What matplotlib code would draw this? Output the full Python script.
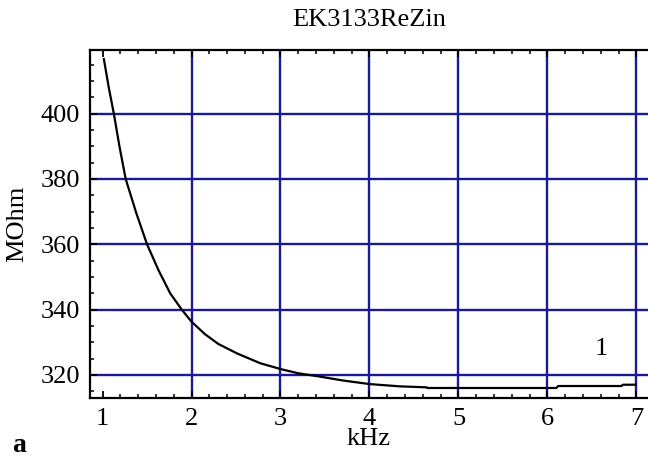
import matplotlib.pyplot as plt
from matplotlib.ticker import MultipleLocator

plt.rcParams['font.family'] = ['Liberation Serif', 'DejaVu Serif']

# curve
freq_khz = [1.015, 1.07, 1.127, 1.19, 1.26, 1.38, 1.50, 1.63, 1.76, 1.89,
            2.0, 2.15, 2.3, 2.51, 2.77, 3.0, 3.2, 3.44, 3.7, 4.0, 4.34,
            4.64, 4.65, 5.0, 5.5, 6.1, 6.12, 6.5, 6.83, 6.85, 6.99]
rezin_mohm = [416.7, 408.0, 400.0, 390.0, 380.0, 369.5, 360.0, 352.0, 345.0,
              340.0, 336.3, 332.5, 329.5, 326.6, 323.6, 321.8, 320.5, 319.5,
              318.3, 317.2, 316.5, 316.2, 316.0, 316.0, 316.0, 316.0, 316.6,
              316.6, 316.6, 317.0, 317.0]

x_ticks = [1, 2, 3, 4, 5, 6, 7]
y_ticks = [320, 340, 360, 380, 400]

fig = plt.figure(figsize=(6.48, 4.62), dpi=100)
ax = fig.add_axes([0.139, 0.139, 0.861, 0.753])

grid_color = '#1a1a96'
for xv in x_ticks[1:]:
    ax.axvline(xv, color=grid_color, lw=1.7, zorder=1)
for yv in y_ticks:
    ax.axhline(yv, color=grid_color, lw=1.7, zorder=1)

ax.plot(freq_khz, rezin_mohm, color='black', lw=1.6, zorder=3)

ax.set_xlim(0.86, 7.13)
ax.set_ylim(313, 419.5)
ax.set_xticks(x_ticks)
ax.set_yticks(y_ticks)
ax.xaxis.set_minor_locator(MultipleLocator(0.2))
ax.yaxis.set_minor_locator(MultipleLocator(5))
ax.tick_params(axis='both', which='major', direction='in', length=5, width=1.3,
               labelsize=19, pad=7, top=True)
ax.tick_params(axis='both', which='minor', direction='in', length=3, width=1.1,
               top=True)
ax.spines['right'].set_visible(False)
for s in ['left', 'bottom', 'top']:
    ax.spines[s].set_linewidth(1.6)

ax.set_title('EK3133ReZin', fontsize=19, pad=17)
ax.set_xlabel('kHz', fontsize=19, labelpad=-1)
ax.set_ylabel('MOhm', fontsize=19, labelpad=9)
ax.text(6.6, 328, '1', fontsize=19, ha='center', va='center')
fig.text(0.018, 0.022, 'a', fontsize=20, fontweight='bold')

fig.savefig('out.png', dpi=100)
